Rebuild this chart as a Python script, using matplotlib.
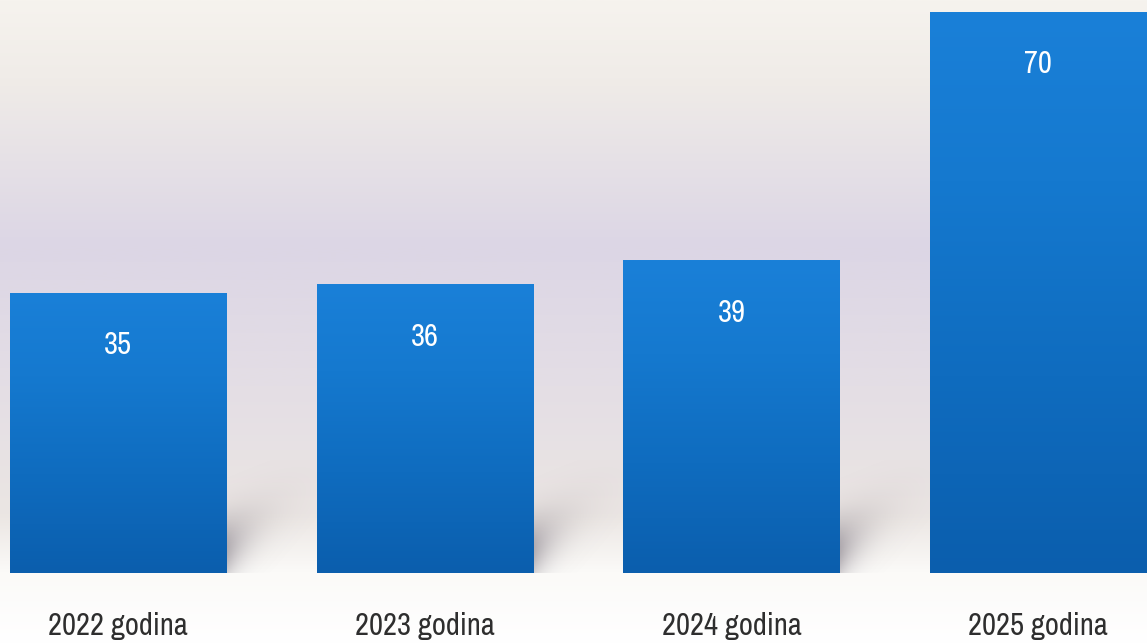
import matplotlib.pyplot as plt
import numpy as np
from matplotlib import font_manager
from matplotlib.colors import LinearSegmentedColormap

years = ["2022 godina", "2023 godina", "2024 godina", "2025 godina"]
values = [35, 36, 39, 70]

# pick a narrow face if one is installed
names = sorted({f.name for f in font_manager.fontManager.ttflist})
narrow = [n for n in names if 'Narrow' in n or 'Condensed' in n]
fam = narrow[0] if narrow else 'Liberation Sans'
plt.rcParams['font.family'] = [fam, 'DejaVu Sans']

fig = plt.figure(figsize=(11.47, 6.44), dpi=100)
ax = fig.add_axes([0, 0, 1, 1])
ax.set_xlim(-0.385, 3.355)
ax.set_ylim(-8.86, 71.5)
ax.axis('off')

# background: light top, lavender middle, white floor
bg = LinearSegmentedColormap.from_list("bg", [
    (0.0, "#ffffff"), (0.11, "#fbfaf8"), (0.20, "#ebe6e3"),
    (0.40, "#e4dee5"), (0.62, "#dcd6e5"), (0.88, "#f0ece8"), (1.0, "#f6f3ee")])
grad = np.linspace(0, 1, 256).reshape(-1, 1)
ax.imshow(grad, cmap=bg, aspect='auto', extent=[-0.385, 3.355, -8.86, 71.5],
          origin='lower', zorder=0)

# soft shadow to the right of each bar's foot
u = np.linspace(0, 0.3, 120)
v = np.linspace(0, 14, 120)
U, V = np.meshgrid(u, v)
a = 0.5 * np.exp(-U / 0.08) * np.exp(-((V - (3 + 28 * U)) / 4.0) ** 2)
shade = np.zeros((120, 120, 4))
shade[..., :3] = np.array([0.42, 0.39, 0.44])
shade[..., 3] = a
for i in range(len(values)):
    x1 = i + 0.3525
    ax.imshow(shade, extent=[x1, x1 + 0.3, 0, 14], origin='lower',
              aspect='auto', zorder=1, interpolation='bilinear')

barcol = LinearSegmentedColormap.from_list("bar", [(0, "#0b5ead"), (0.35, "#0f6cbf"),
                                                   (0.7, "#1579cf"), (1, "#1a80d8")])
bars = ax.bar(range(len(values)), values, width=0.705, color="#1478cc", zorder=2)
for b in bars:
    x0, w, h = b.get_x(), b.get_width(), b.get_height()
    g = np.linspace(0, 1, 256).reshape(-1, 1)
    im = ax.imshow(g, cmap=barcol, aspect='auto', extent=[x0, x0 + w, 0, h],
                   origin='lower', zorder=3)
    im.set_clip_path(b)

big = 22 if narrow else 19
for i, v in enumerate(values):
    ax.text(i, v - 6.5, str(v), ha='center', va='center', color='white',
            fontsize=22, zorder=4)
    ax.text(i, -6.6, years[i], ha='center', va='center', color='#2e2e2e',
            fontsize=big, zorder=4)

ax.set_xlim(-0.385, 3.355)
ax.set_ylim(-8.86, 71.5)
fig.savefig("out.png", dpi=100)
